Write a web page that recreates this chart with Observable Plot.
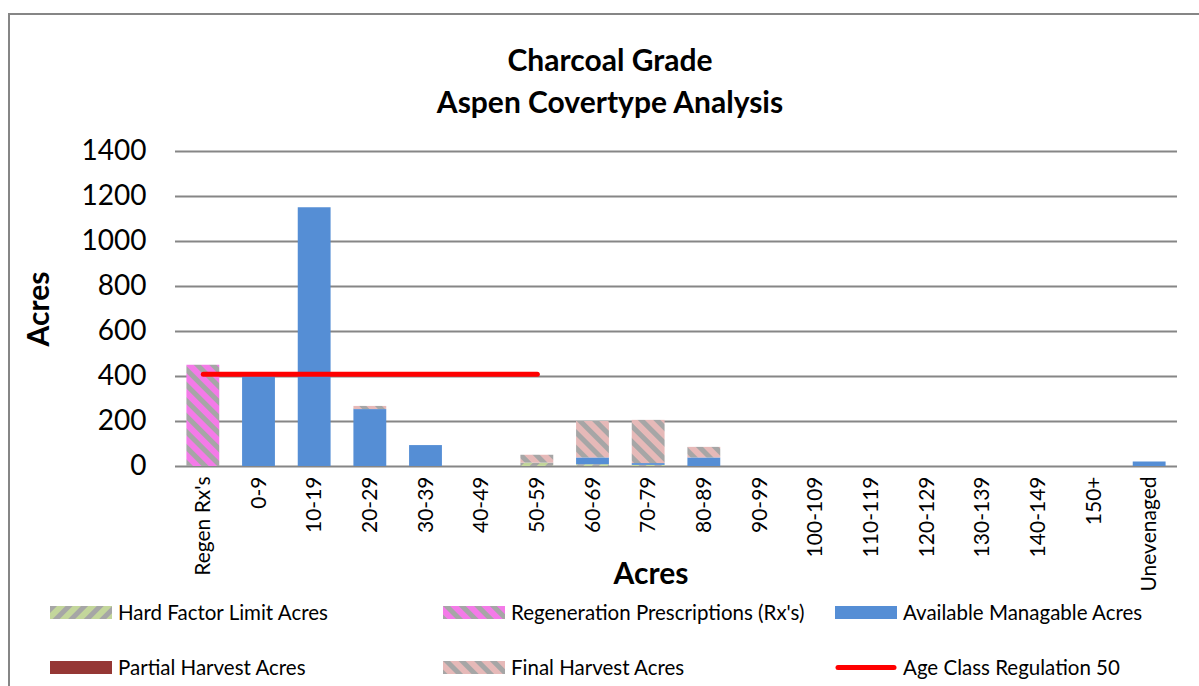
<!DOCTYPE html>
<html>
<head>
<meta charset="utf-8">
<script src="https://cdn.jsdelivr.net/npm/d3@7"></script>
<script src="https://cdn.jsdelivr.net/npm/@observablehq/plot@0.6"></script>
<style>
  html, body { margin: 0; padding: 0; background: #fff; overflow: hidden; }
  body { width: 1199px; height: 686px; position: relative; font-family: Lato, "Open Sans", sans-serif; color: #000; }
  #frame { position: absolute; left: 8px; top: 13px; width: 1200px; height: 700px; border: 2px solid #868686; box-sizing: border-box; }
  #chart { position: absolute; left: 0; top: 0; }
  #title { position: absolute; left: 360px; width: 500px; top: 38px; text-align: center; font-weight: bold; font-size: 30px; line-height: 42px; }
  #ytitle { position: absolute; left: 37px; top: 309px; transform: translate(-50%, -50%) rotate(-90deg); font-weight: bold; font-size: 30px; white-space: nowrap; }
  #xtitle { position: absolute; left: 651px; top: 572px; transform: translate(-50%, -50%); font-weight: bold; font-size: 30px; white-space: nowrap; }
  .leg { position: absolute; display: flex; align-items: center; font-size: 20.5px; white-space: nowrap; }
  .leg svg { margin-right: 6px; }
</style>
</head>
<body>
<div id="frame"></div>
<div id="chart"></div>
<div id="title">Charcoal Grade<br>Aspen Covertype Analysis</div>
<div id="ytitle">Acres</div>
<div id="xtitle">Acres</div>
<div id="legend"></div>
<script>
// ---- Data ----
const categories = ["Regen Rx's","0-9","10-19","20-29","30-39","40-49","50-59","60-69","70-79","80-89","90-99","100-109","110-119","120-129","130-139","140-149","150+","Unevenaged"];
const hardFactor   = [0,   0,   0,    0,  0, 0, 15,   8,   5,  0, 0,0,0,0,0,0,0, 0];
const regenRx      = [450, 0,   0,    0,  0, 0,  0,   0,   0,  0, 0,0,0,0,0,0,0, 0];
const available    = [0, 400, 1150, 253, 93, 0,  0,  30,   8, 38, 0,0,0,0,0,0,0,20];
const partial      = [0,   0,   0,    0,  0, 0,  0,   0,   0,  0, 0,0,0,0,0,0,0, 0];
const finalHarvest = [0,   0,   0,   14,  0, 0, 35, 162, 192, 47, 0,0,0,0,0,0,0, 0];
const ageClassReg  = [410,410,410,410,410,410,410,null,null,null,null,null,null,null,null,null,null,null];
const yTicks = [0,200,400,600,800,1000,1200,1400];

const seriesNames = ["Hard Factor Limit Acres","Regeneration Prescriptions (Rx's)","Available Managable Acres","Partial Harvest Acres","Final Harvest Acres"];
const seriesValues = [hardFactor, regenRx, available, partial, finalHarvest];
const seriesFills = ["url(#pHard)","url(#pRegen)","#558ed5","#953735","url(#pFinal)"];
const lineName = "Age Class Regulation 50";

const rows = [];
seriesNames.forEach((s, i) => categories.forEach((c, j) => rows.push({cat: c, series: s, value: seriesValues[i][j]})));
const lineRows = categories.map((c, j) => ({cat: c, value: ageClassReg[j]})).filter(d => d.value != null);

const defsMarkup = `
<defs>
  <pattern id="pHard" patternUnits="userSpaceOnUse" width="11" height="11" patternTransform="rotate(45)">
    <rect width="11" height="11" fill="#c3d69b"/><rect width="5" height="11" fill="#a6a6a6"/>
  </pattern>
  <pattern id="pRegen" patternUnits="userSpaceOnUse" width="11" height="11" patternTransform="rotate(-45)">
    <rect width="11" height="11" fill="#f47ae8"/><rect width="5" height="11" fill="#a6a6a6"/>
  </pattern>
  <pattern id="pFinal" patternUnits="userSpaceOnUse" width="11" height="11" patternTransform="rotate(-45)">
    <rect width="11" height="11" fill="#e6b9b8"/><rect width="5" height="11" fill="#a6a6a6"/>
  </pattern>
</defs>`;

const chart = Plot.plot({
  width: 1199,
  height: 686,
  marginTop: 151,
  marginBottom: 220,
  marginLeft: 175,
  marginRight: 22,
  style: {fontFamily: "Lato, 'Open Sans', sans-serif", color: "#000", background: "transparent"},
  x: {domain: categories, paddingInner: 0.41, paddingOuter: 0.205, round: false, label: null},
  y: {domain: [0, 1400], label: null},
  color: {domain: seriesNames, range: seriesFills},
  marks: [
    Plot.ruleY(yTicks, {stroke: "#868686", strokeWidth: 2}),
    Plot.axisY({ticks: yTicks, tickFormat: d => String(d), tickSize: 0, tickPadding: 29, fontSize: 28, label: null}),
    Plot.axisX({tickSize: 0, tickPadding: 10, tickRotate: -90, fontSize: 21, label: null}),
    Plot.barY(rows, Plot.stackY({x: "cat", y: "value", fill: "series", order: seriesNames})),
    Plot.line(lineRows, {x: "cat", y: "value", stroke: "#ff0000", strokeWidth: 5, strokeLinecap: "round"})
  ]
});
chart.insertAdjacentHTML("afterbegin", defsMarkup);
document.getElementById("chart").appendChild(chart);

// ---- Legend ----
const legendItems = [
  {name: seriesNames[0], fill: seriesFills[0], x: 50, y: 612},
  {name: seriesNames[1], fill: seriesFills[1], x: 443, y: 612},
  {name: seriesNames[2], fill: seriesFills[2], x: 835, y: 612},
  {name: seriesNames[3], fill: seriesFills[3], x: 50, y: 667},
  {name: seriesNames[4], fill: seriesFills[4], x: 443, y: 667},
  {name: lineName, line: "#ff0000", x: 835, y: 667}
];
const legend = document.getElementById("legend");
legendItems.forEach(it => {
  const div = document.createElement("div");
  div.className = "leg";
  div.style.left = it.x + "px";
  div.style.top = (it.y - 13) + "px";
  div.style.height = "26px";
  const sw = it.line
    ? `<svg width="62" height="13"><line x1="3" x2="59" y1="6.5" y2="6.5" stroke="${it.line}" stroke-width="5" stroke-linecap="round"/></svg>`
    : `<svg width="62" height="13"><rect width="62" height="13" fill="${it.fill}"/></svg>`;
  div.innerHTML = sw + `<span>${it.name}</span>`;
  legend.appendChild(div);
});
</script>
</body>
</html>
